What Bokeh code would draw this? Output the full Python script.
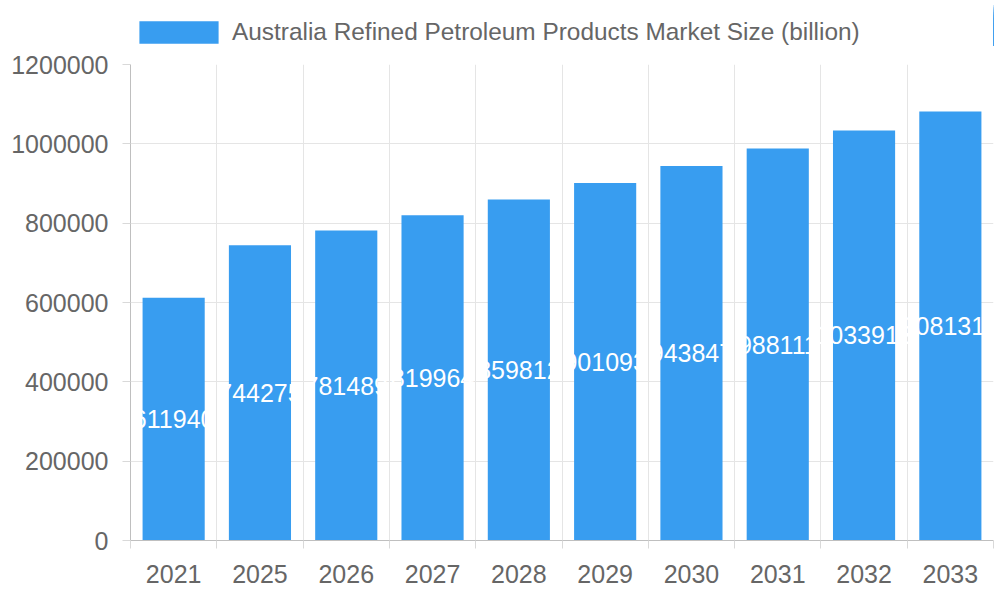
from bokeh.plotting import figure
from bokeh.models import ColumnDataSource, FixedTicker, Legend, LegendItem, Range1d
from bokeh.layouts import column
from bokeh.core.properties import value
from bokeh.embed import file_html
from bokeh.resources import INLINE

years = ["2021", "2025", "2026", "2027", "2028", "2029", "2030", "2031", "2032", "2033"]
market_size = [611940, 744275, 781489, 819964, 859812, 901093, 943847, 988111, 1033913, 1081318]
series_name = "Australia Refined Petroleum Products Market Size (billion)"
y_ticks = [0, 200000, 400000, 600000, 800000, 1000000, 1200000]

FONT = "Liberation Sans"
GREY = "#666666"
BLUE = "#389DF0"
FS = "25px"

xs = [i + 0.5 for i in range(len(years))]
src = ColumnDataSource(dict(
    x=xs,
    top=market_size,
    mid=[v / 2 for v in market_size],
    label=[str(v) for v in market_size],
))

# ---- legend strip on top (its bars fall outside its own view; only the legend shows) ----
leg = figure(width=1000, height=46, output_backend="svg", toolbar_location=None,
             x_axis_type=None, y_axis_type=None,
             x_range=Range1d(-20, -10), y_range=Range1d(0, 1200000),
             min_border_left=0, min_border_right=0, min_border_top=0, min_border_bottom=0)
leg.outline_line_color = None
leg.xgrid.visible = False
leg.ygrid.visible = False
proxy = leg.vbar(x="x", top="top", width=0.72, bottom=0, source=src,
                 fill_color=BLUE, line_color=None)
legend = Legend(items=[LegendItem(label=series_name, renderers=[proxy], index=0)],
                orientation="horizontal", location=(-1, 0),
                glyph_width=99, glyph_height=28, label_height=28, padding=0, margin=0,
                label_text_font=FONT, label_text_font_size="24.4px",
                label_text_color=GREY, label_standoff=4, label_text_baseline="middle",
                border_line_color=None, background_fill_alpha=0)
leg.add_layout(legend, "center")

# ---- main chart ----
p = figure(frame_width=863, frame_height=476, output_backend="svg", toolbar_location=None,
           x_range=Range1d(0, len(years)), y_range=Range1d(0, 1200000),
           min_border_left=130, min_border_right=7, min_border_bottom=60, min_border_top=18)
p.outline_line_color = None
p.background_fill_color = "white"

p.vbar(x="x", top="top", width=0.72, bottom=0, source=src,
       fill_color=BLUE, line_color=None)
p.text(x="x", y="mid", text="label", source=src, text_color="white",
       text_align="center", text_baseline="middle",
       text_font=value(FONT), text_font_size=FS)

# x axis
p.xaxis.ticker = FixedTicker(ticks=xs, minor_ticks=list(range(len(years) + 1)))
p.xaxis.major_label_overrides = {x: y for x, y in zip(xs, years)}
p.xaxis.major_tick_line_color = None
p.xaxis.minor_tick_out = 8
p.xaxis.minor_tick_in = 0
p.xaxis.minor_tick_line_color = "#d9d9d9"
p.xaxis.axis_line_color = "#bfbfbf"
p.xaxis.major_label_standoff = 16
p.xgrid.ticker = FixedTicker(ticks=list(range(len(years) + 1)))
p.xgrid.grid_line_color = "#e5e5e5"

# y axis
p.yaxis.ticker = FixedTicker(ticks=y_ticks)
p.yaxis.formatter.use_scientific = False
p.yaxis.major_tick_out = 8
p.yaxis.major_tick_in = 0
p.yaxis.minor_tick_line_color = None
p.yaxis.major_tick_line_color = "#d9d9d9"
p.yaxis.axis_line_color = "#bfbfbf"
p.yaxis.major_label_standoff = 14
p.ygrid.grid_line_color = "#e5e5e5"

for ax in (p.xaxis, p.yaxis):
    ax.major_label_text_font = FONT
    ax.major_label_text_font_size = FS
    ax.major_label_text_color = GREY

layout = column(leg, p, spacing=0)
open("out.html", "w").write(file_html(layout, INLINE))
